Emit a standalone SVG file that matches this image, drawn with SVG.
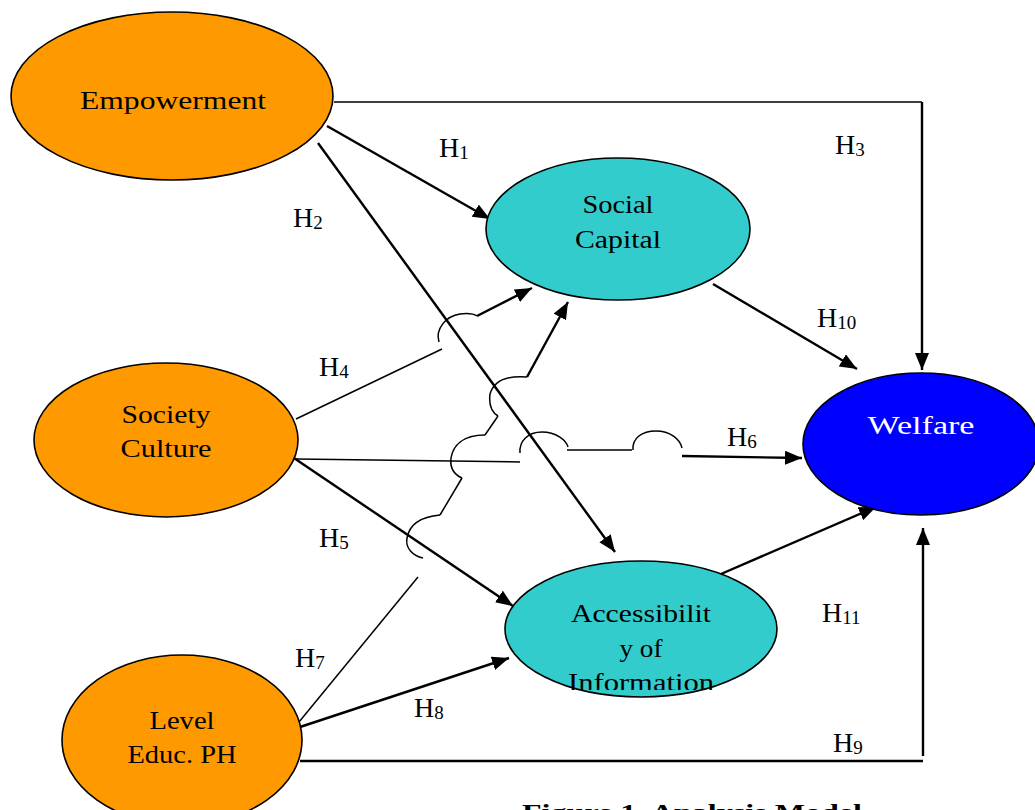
<svg xmlns="http://www.w3.org/2000/svg" width="1035" height="810" viewBox="0 0 1035 810">
<defs>
<style>
.node{stroke:#000;stroke-width:1.6}
.or{fill:#FF9900}
.tl{fill:#33CCCC}
.bl{fill:#0000FF}
.lbl{font-family:"Liberation Serif","Times New Roman",serif;font-size:26px;fill:#000;text-anchor:middle}
.h{font-family:"Liberation Serif","Times New Roman",serif;font-size:28px;fill:#000}
.sub{font-size:19px}
.thin{fill:none;stroke:#000;stroke-width:1.5}
.thick{fill:none;stroke:#000;stroke-width:2.4}
.cap{font-family:"Liberation Serif","Times New Roman",serif;font-size:24px;font-weight:bold;fill:#000}
</style>
<marker id="arr" markerUnits="userSpaceOnUse" markerWidth="18" markerHeight="14" refX="17" refY="7" orient="auto">
<path d="M0,0 L17,7 L0,14 z" fill="#000"/>
</marker>
<clipPath id="clipInfo"><rect x="500" y="560" width="300" height="130"/></clipPath>
</defs>
<rect width="1035" height="810" fill="#fff"/>

<g id="connectors">
<!-- H3 -->
<path class="thin" d="M334,102 L922,102"/>
<path class="thick" d="M922,102 L922,370" marker-end="url(#arr)"/>
<!-- H1 -->
<path class="thick" d="M327,126 L490,219" marker-end="url(#arr)"/>
<!-- H2 -->
<path class="thick" d="M318,143 L615,552" marker-end="url(#arr)"/>
<!-- H4 -->
<path class="thin" d="M296,419 L442,349"/>
<path class="thin" d="M439,342 C435,329 446,316 460,314 C468,313 474,314 477,316"/>
<path class="thick" d="M477,316 L532,288" marker-end="url(#arr)"/>
<!-- H7 -->
<path class="thin" d="M299,722 L418,577"/>
<path class="thin" d="M423,558 C413,556 405,548 407,538 C409,527 418,517 440,515"/>
<path class="thin" d="M440,515 L462,478"/>
<path class="thin" d="M462,478 C453,474 450,466 451,458 C453,446 462,435 485,435"/>
<path class="thin" d="M485,435 L498,416"/>
<path class="thin" d="M498,416 C490,411 489,402 490,394 C493,384 502,375 527,377"/>
<path class="thick" d="M527,377 L568,302" marker-end="url(#arr)"/>
<!-- H6 -->
<path class="thin" d="M296,459 L520,462"/>
<path class="thin" d="M520,453 C519,441 528,432 542,432 C556,432 566,440 568,447"/>
<path class="thin" d="M567,450 L632,450"/>
<path class="thin" d="M633,450 C632,438 642,431 656,431 C670,431 680,439 682,448"/>
<path class="thick" d="M682,456 L802,458" marker-end="url(#arr)"/>
<!-- H5 -->
<path class="thick" d="M285,452 L513,606" marker-end="url(#arr)"/>
<!-- H8 -->
<path class="thick" d="M300,727 L509,658" marker-end="url(#arr)"/>
<!-- H9 -->
<path class="thick" d="M300,761 L923,761"/>
<path class="thick" d="M923,756 L923,528" marker-end="url(#arr)"/>
<!-- H10 -->
<path class="thick" d="M713,284 L857,369" marker-end="url(#arr)"/>
<!-- H11 -->
<path class="thick" d="M721,574 L876,507" marker-end="url(#arr)"/>
</g>

<g id="empowerment">
<ellipse class="node or" cx="172" cy="96" rx="161" ry="84"/>
<text class="lbl" x="173" y="109" font-size="28" textLength="186" lengthAdjust="spacingAndGlyphs">Empowerment</text>
</g>
<g id="social-capital">
<ellipse class="node tl" cx="618" cy="229" rx="132" ry="71"/>
<text class="lbl" x="618" y="213" textLength="71" lengthAdjust="spacingAndGlyphs">Social</text>
<text class="lbl" x="618" y="248" textLength="86" lengthAdjust="spacingAndGlyphs">Capital</text>
</g>
<g id="society-culture">
<ellipse class="node or" cx="166" cy="440" rx="132" ry="77"/>
<text class="lbl" x="166" y="423" textLength="89" lengthAdjust="spacingAndGlyphs">Society</text>
<text class="lbl" x="166" y="457" textLength="91" lengthAdjust="spacingAndGlyphs">Culture</text>
</g>
<g id="level-educ">
<ellipse class="node or" cx="182" cy="740" rx="120" ry="85"/>
<text class="lbl" x="182" y="729" textLength="65" lengthAdjust="spacingAndGlyphs">Level</text>
<text class="lbl" x="182" y="763" textLength="109" lengthAdjust="spacingAndGlyphs">Educ. PH</text>
</g>
<g id="accessibility">
<ellipse class="node tl" cx="641" cy="629" rx="136" ry="68"/>
<text class="lbl" x="641" y="622" textLength="140" lengthAdjust="spacingAndGlyphs">Accessibilit</text>
<text class="lbl" x="641" y="657" textLength="43" lengthAdjust="spacingAndGlyphs">y of</text>
<text class="lbl" x="641" y="691" clip-path="url(#clipInfo)" textLength="146" lengthAdjust="spacingAndGlyphs">Information</text>
</g>
<g id="welfare">
<ellipse class="node bl" cx="921" cy="444" rx="118" ry="71"/>
<text class="lbl" x="921" y="434" font-size="28" fill="#fff" style="fill:#fff" textLength="107" lengthAdjust="spacingAndGlyphs">Welfare</text>
</g>

<g id="labels">
<text class="h" x="439" y="157">H<tspan class="sub" dy="2">1</tspan></text>
<text class="h" x="293" y="227">H<tspan class="sub" dy="2">2</tspan></text>
<text class="h" x="835" y="154">H<tspan class="sub" dy="2">3</tspan></text>
<text class="h" x="319" y="376">H<tspan class="sub" dy="2">4</tspan></text>
<text class="h" x="319" y="547">H<tspan class="sub" dy="2">5</tspan></text>
<text class="h" x="727" y="446">H<tspan class="sub" dy="2">6</tspan></text>
<text class="h" x="295" y="667">H<tspan class="sub" dy="2">7</tspan></text>
<text class="h" x="414" y="717">H<tspan class="sub" dy="2">8</tspan></text>
<text class="h" x="833" y="752">H<tspan class="sub" dy="2">9</tspan></text>
<text class="h" x="817" y="327">H<tspan class="sub" dy="2">10</tspan></text>
<text class="h" x="822" y="622">H<tspan class="sub" dy="2">11</tspan></text>
</g>

<text class="cap" x="522" y="820" textLength="340" lengthAdjust="spacingAndGlyphs">Figure 1. Analysis Model</text>
</svg>
